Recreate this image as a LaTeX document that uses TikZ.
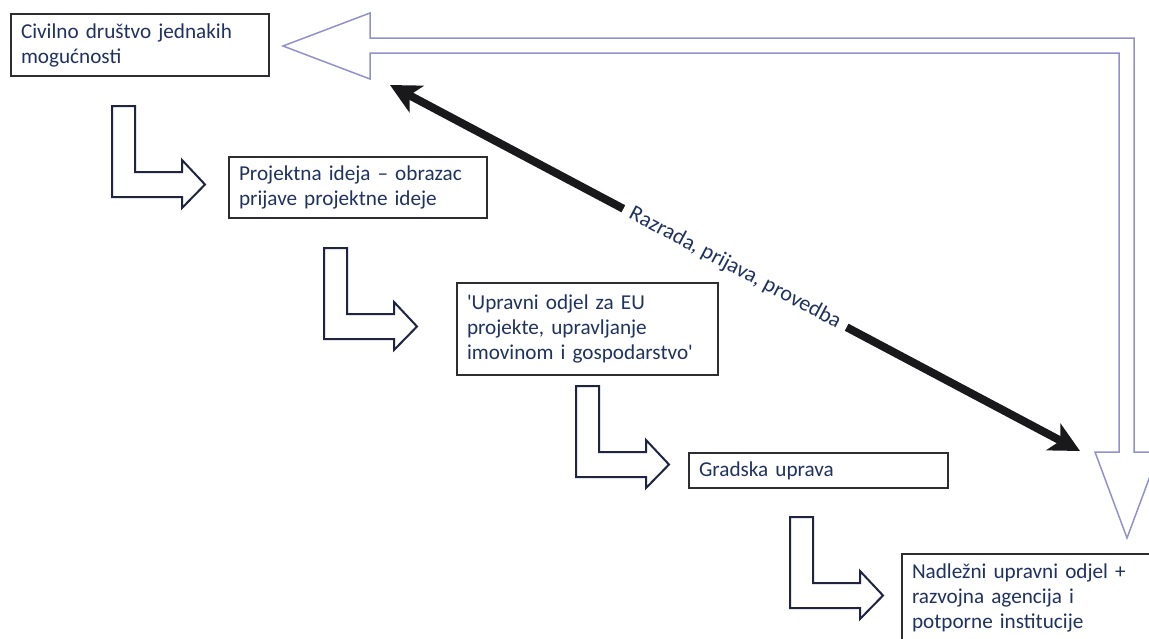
\documentclass[tikz,border=0pt]{standalone}
\usepackage{fontspec}
\setmainfont{Carlito}
\usetikzlibrary{arrows.meta,calc}
\definecolor{navytext}{RGB}{32,50,96}
\definecolor{boxline}{RGB}{45,45,50}
\definecolor{larrowline}{RGB}{30,36,66}
\definecolor{hollowline}{RGB}{145,145,205}
\definecolor{darkarrow}{RGB}{25,25,28}
\tikzset{
  box/.style={draw=boxline, line width=1pt, fill=white, anchor=north west,
    align=left, inner xsep=5pt, inner ysep=0pt, text=navytext,
    font=\fontsize{10.6}{12.5}\selectfont},
  larrowstyle/.style={draw=larrowline, line width=1pt, fill=white, line join=miter},
  larrow/.pic={\draw[larrowstyle] (0,0) -- (23,0) -- (23,66) -- (70,66) -- (70,54)
      -- (93,78.5) -- (70,102) -- (70,91) -- (0,91) -- cycle;},
  hollow/.style={draw=hollowline, line width=0.75pt, fill=white, line join=miter},
  bigarrow/.style={draw=darkarrow, line width=4pt,
    {Stealth[length=15pt,width=15pt,inset=4pt]}-{Stealth[length=15pt,width=15pt,inset=4pt]}},
  lbl/.style={sloped, fill=white, text=navytext, inner xsep=4pt, inner ysep=1pt,
    font=\fontsize{11}{12.6}\selectfont}
}
\begin{document}
\begin{tikzpicture}[x=0.5pt,y=-0.5pt]
\useasboundingbox (0,0) rectangle (1149,638);
\clip (0,0) rectangle (1149,638);
\fill[white] (0,0) rectangle (1149,638);

% hollow return arrow
\draw[hollow] (283,46) -- (370,13) -- (370,38) -- (1134,38) -- (1134,452) -- (1159,452)
  -- (1127,538) -- (1095,452) -- (1119,452) -- (1119,53) -- (370,53) -- (370,79) -- cycle;

% boxes
\node[box, text width=119pt, minimum height=31pt] (civ) at (10,13)
  {Civilno društvo jednakih\\mogućnosti};
\node[box, text width=119pt, minimum height=30.5pt] (ideja) at (228,156)
  {Projektna ideja – obrazac\\prijave projektne ideje};
\node[box, text width=120.5pt, minimum height=46pt] (odjel) at (456,282)
  {\textquotesingle Upravni odjel za EU\\projekte, upravljanje\\imovinom i gospodarstvo\textquotesingle};
\node[box, text width=119.5pt, minimum height=17.5pt] (grad) at (688,452)
  {Gradska uprava};
\node[box, text width=120pt, minimum height=43.5pt] (nadl) at (901,553)
  {Nadležni upravni odjel +\\razvojna agencija i\\potporne institucije};

% L-shaped flow arrows
\pic at (112,106) {larrow};
\pic at (324,248) {larrow};
\pic at (576,386) {larrow};
\pic at (790,517) {larrow};

% double-headed diagonal arrow
\coordinate (dtop) at (390,85);
\coordinate (dbot) at (1080,451);
\draw[bigarrow] (dtop) -- node[lbl, midway] (razrada) {Razrada, prijava, provedba} (dbot);
\end{tikzpicture}
\end{document}
